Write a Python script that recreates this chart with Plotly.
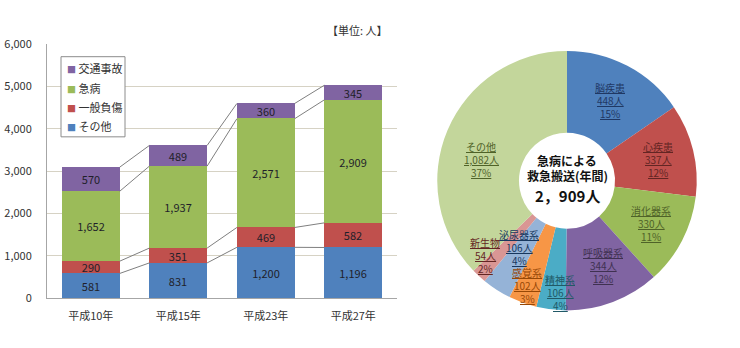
import plotly.graph_objects as go

# --- data: ambulance dispatches by category (persons) ---
years = ["平成10年", "平成15年", "平成23年", "平成27年"]
sonota = [581, 831, 1200, 1196]
ippan_fusho = [290, 351, 469, 582]
kyubyo = [1652, 1937, 2571, 2909]
kotsu_jiko = [570, 489, 360, 345]

# --- breakdown of sudden illness (平成27年) ---
ill_names = ["脳疾患", "心疾患", "消化器系", "呼吸器系", "精神系", "感覚系", "泌尿器系", "新生物", "その他"]
ill_values = [448, 337, 330, 344, 106, 102, 106, 54, 1082]
ill_pcts = [15, 12, 11, 12, 4, 3, 4, 2, 37]

FONT = "Noto Sans CJK JP, Noto Sans, sans-serif"
W, H = 740, 348


def px_x(x):
    return x / W


def px_y(y):
    return 1 - y / H


bar_series = [
    ("その他", sonota, "#4F81BD"),
    ("一般負傷", ippan_fusho, "#C0504D"),
    ("急病", kyubyo, "#9BBB59"),
    ("交通事故", kotsu_jiko, "#8064A2"),
]

fig = go.Figure()
xs = list(range(len(years)))
BW = 0.66

for name, vals, col in bar_series:
    fig.add_trace(go.Bar(
        x=xs, y=vals, name=name, width=BW,
        marker=dict(color=col, line=dict(width=0)),
        text=[f"{v:,}" for v in vals], textposition="inside",
        insidetextanchor="middle", textangle=0, constraintext="none",
        textfont=dict(family=FONT, size=11, color="#1f1f2a"),
        xaxis="x", yaxis="y", hoverinfo="skip", showlegend=False,
    ))

# series lines linking the stack boundaries of neighbouring bars
cum = [0] * len(years)
levels = []
for _, vals, _ in bar_series:
    cum = [c + v for c, v in zip(cum, vals)]
    levels.append(list(cum))
for lvl in levels:
    for i in range(len(years) - 1):
        fig.add_trace(go.Scatter(
            x=[i + BW / 2, i + 1 - BW / 2], y=[lvl[i], lvl[i + 1]],
            mode="lines", line=dict(color="#7f7f7f", width=1),
            showlegend=False, hoverinfo="skip", xaxis="x", yaxis="y",
        ))

# legend box (top entry = top of stack)
fig.add_shape(type="rect", xref="paper", yref="paper",
              x0=px_x(61), x1=px_x(125), y0=px_y(134), y1=px_y(50),
              line=dict(color="#8c8c8c", width=1), fillcolor="white", layer="above")
for k, (name, _, col) in enumerate(reversed(bar_series)):
    fig.add_annotation(
        x=px_x(65), y=px_y(62 + 20.3 * k), xref="paper", yref="paper",
        text=f"<span style='color:{col};font-size:9px'>■</span> {name}",
        showarrow=False, xanchor="left", yanchor="middle",
        font=dict(family=FONT, size=11, color="#333333"),
    )

# donut of illness breakdown
pie_colors = ["#4F81BD", "#C0504D", "#9BBB59", "#8064A2", "#4BACC6",
              "#F79646", "#95B3D7", "#D99694", "#C3D69B"]
label_colors = ["#1F3864", "#632523", "#4F6228", "#3F3151", "#215967",
                "#974806", "#17375E", "#632523", "#4F6228"]
pie_dom_x = [431 / W, 703 / W]
pie_dom_y = [1 - 316 / H, 1 - 44 / H]
fig.add_trace(go.Pie(
    labels=ill_names, values=ill_values, sort=False, direction="clockwise",
    rotation=0, hole=0.37, marker=dict(colors=pie_colors, line=dict(width=0)),
    textinfo="none", showlegend=False, hoverinfo="skip",
    domain=dict(x=pie_dom_x, y=pie_dom_y),
))

# slice label centres, as pixel offsets from the donut centre
cx = (pie_dom_x[0] + pie_dom_x[1]) / 2 * W
cy = (1 - (pie_dom_y[0] + pie_dom_y[1]) / 2) * H
label_offsets = [(43, -84), (91, -22), (84, 45), (36, 89), (-7, 117),
                 (-40, 110), (-48, 70), (-82, 78), (-86, -22)]
LINE = 13.5
for name, v, p, (dx, dy), lc in zip(ill_names, ill_values, ill_pcts, label_offsets, label_colors):
    lines = [name, f"{v:,}人", f"{p}%"]
    for j, t in enumerate(lines):
        fig.add_annotation(
            x=px_x(cx + dx), y=px_y(cy + dy + (j - 1) * LINE),
            xref="paper", yref="paper", text=f"<u>{t}</u>",
            showarrow=False, font=dict(family=FONT, size=10, color=lc),
            xanchor="center", yanchor="middle", borderpad=0,
        )

# centre caption
center_lines = [("急病による", 12, -21), ("救急搬送(年間)", 12, -5), ("2，909人", 15, 15)]
for t, fs, off in center_lines:
    fig.add_annotation(
        x=px_x(cx), y=px_y(cy + off), xref="paper", yref="paper",
        text=f"<b>{t}</b>", showarrow=False,
        font=dict(family=FONT, size=fs, color="#111111"),
        xanchor="center", yanchor="middle", borderpad=0,
    )

fig.add_annotation(
    x=px_x(390), y=px_y(22), xref="paper", yref="paper",
    text="【単位: 人】", showarrow=False,
    font=dict(family=FONT, size=11, color="#333333"),
    xanchor="right", yanchor="middle",
)

fig.update_layout(
    width=W, height=H, margin=dict(l=0, r=0, t=0, b=0),
    paper_bgcolor="white", plot_bgcolor="white",
    barmode="stack", bargap=0, showlegend=False,
    uniformtext=dict(minsize=11, mode="show"),
    font=dict(family=FONT, size=11, color="#333333"),
    xaxis=dict(
        domain=[47 / W, 397 / W], range=[-0.5, 3.5],
        tickvals=xs, ticktext=years, showgrid=False, zeroline=False,
        showline=True, linecolor="#a6a6a6", linewidth=1, ticks="",
        ticklabelstandoff=8,
        tickfont=dict(family=FONT, size=11, color="#333333"),
    ),
    yaxis=dict(
        domain=[1 - 303 / H, 1 - 37 / H], range=[0, 6000],
        tickvals=[0, 1000, 2000, 3000, 4000, 5000, 6000],
        tickformat=",", showgrid=True, gridcolor="#d6d2c4", gridwidth=1,
        zeroline=False, showline=True, linecolor="#a6a6a6", linewidth=1,
        ticks="", ticklabelstandoff=12,
        tickfont=dict(family=FONT, size=11, color="#333333"),
    ),
)

fig.write_html("out.html")
